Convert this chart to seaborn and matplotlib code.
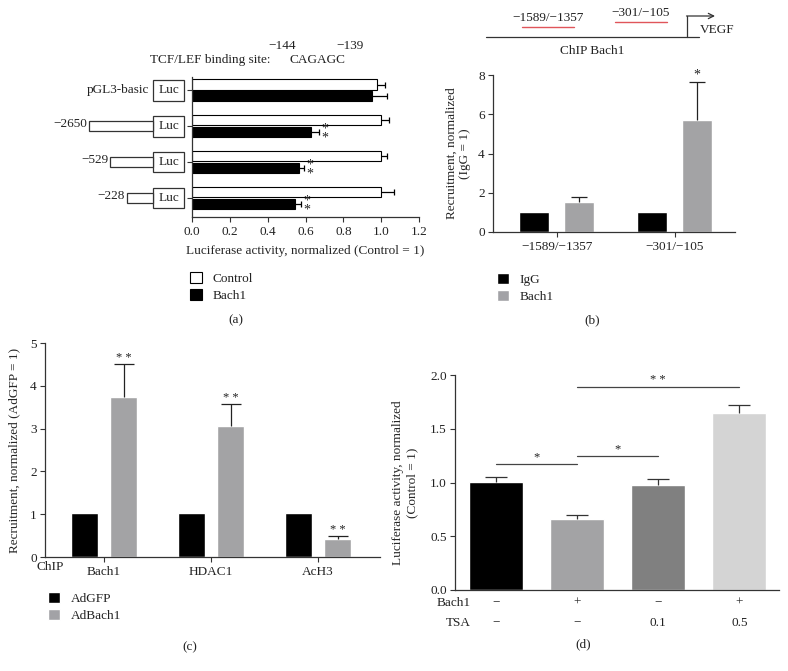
import numpy as np
import pandas as pd
import matplotlib
matplotlib.use('Agg')
import matplotlib.pyplot as plt
from matplotlib.patches import Patch, Rectangle
import matplotlib.transforms as mtrans
import seaborn as sns

# datos del panel (a): actividad luciferasa por construccion
constructs = ['pGL3-basic', '−2650', '−529', '−228']
control_a = [0.98, 1.00, 1.00, 1.00]
control_a_err = [0.04, 0.04, 0.03, 0.07]
bach1_a = [0.95, 0.63, 0.565, 0.545]
bach1_a_err = [0.08, 0.04, 0.025, 0.03]
sig_a = ['', '**', '**', '**']

# panel (b): ChIP Bach1 en el promotor de VEGF
regions_b = ['−1589/−1357', '−301/−105']
igg_b = [1.0, 1.0]
bach1_b = [1.52, 5.72]
bach1_b_err = [0.25, 1.92]
sig_b = ['', '*']

# panel (c): ChIP con AdGFP / AdBach1
chip_c = ['Bach1', 'HDAC1', 'AcH3']
adgfp_c = [1.02, 1.02, 1.02]
adbach1_c = [3.74, 3.05, 0.41]
adbach1_c_err = [0.77, 0.52, 0.08]
sig_c = ['**', '**', '**']

# panel (d): TSA
groups_d = ['ctrl', 'bach1', 'tsa_0.1', 'bach1_tsa_0.5']
vals_d = [1.005, 0.66, 0.98, 1.645]
err_d = [0.05, 0.04, 0.05, 0.08]
bach1_row_d = ['−', '+', '−', '+']
tsa_row_d = ['−', '−', '0.1', '0.5']
sig_d = [(0, 1, 1.17, '*'), (1, 2, 1.25, '*'), (1, 3, 1.89, '**')]

FS = 9.5
sns.set_style('ticks')
plt.rcParams['font.family'] = ['Liberation Serif', 'DejaVu Serif']
plt.rcParams['font.size'] = FS
plt.rcParams['axes.edgecolor'] = '#333333'
plt.rcParams['axes.linewidth'] = 0.9
plt.rcParams['xtick.color'] = '#333333'
plt.rcParams['ytick.color'] = '#333333'
plt.rcParams['xtick.labelcolor'] = '#222222'
plt.rcParams['ytick.labelcolor'] = '#222222'
plt.rcParams['xtick.major.size'] = 3.5
plt.rcParams['ytick.major.size'] = 3.5
plt.rcParams['xtick.major.pad'] = 3
plt.rcParams['ytick.major.pad'] = 2.5
plt.rcParams['text.color'] = '#222222'

W, H = 788, 671
fig = plt.figure(figsize=(W / 100, H / 100), dpi=100)


def rect(l, t, r, b):
    return [l / W, 1 - b / H, (r - l) / W, (b - t) / H]


def one_sided(ax, container, vals, errs, horizontal=False, capsize=3, color='black'):
    n = len(vals)
    if horizontal:
        pos = [p.get_y() + p.get_height() / 2 for p in container]
        eb = ax.errorbar(vals, pos, xerr=[np.zeros(n), errs], fmt='none',
                         ecolor=color, elinewidth=0.9, capsize=capsize, capthick=0.9)
    else:
        pos = [p.get_x() + p.get_width() / 2 for p in container]
        eb = ax.errorbar(pos, vals, yerr=[np.zeros(n), errs], fmt='none',
                         ecolor=color, elinewidth=0.9, capsize=capsize, capthick=0.9)
    eb.lines[1][0].set_visible(False)
    return pos


# ---------------- panel (a)
ax_a = fig.add_axes(rect(192, 77, 419, 217))
df_a = pd.DataFrame({
    'construct': constructs * 2,
    'cond': ['Control'] * 4 + ['Bach1'] * 4,
    'value': control_a + bach1_a,
})
sns.barplot(data=df_a, y='construct', x='value', hue='cond', orient='h',
            palette={'Control': 'white', 'Bach1': 'black'}, edgecolor='black',
            linewidth=0.8, width=0.64, gap=0.12, errorbar=None, legend=False, ax=ax_a)
one_sided(ax_a, ax_a.containers[0], control_a, control_a_err, horizontal=True, capsize=2.5)
pos = one_sided(ax_a, ax_a.containers[1], bach1_a, bach1_a_err, horizontal=True, capsize=2.5)
for v, e, y, s in zip(bach1_a, bach1_a_err, pos, sig_a):
    if s:
        ax_a.text(v + e + 0.015, y + 0.05, '*\n*', ha='left', va='center', fontsize=10,
                  linespacing=0.6)
ax_a.set_xlim(0, 1.2)
ax_a.set_ylim(3.53, -0.37)
ax_a.set_xticks(np.arange(0, 1.21, 0.2))
ax_a.set_xticklabels([f'{t:.1f}' for t in np.arange(0, 1.21, 0.2)])
ax_a.set_yticklabels([])
ax_a.set_ylabel('')
ax_a.set_xlabel('Luciferase activity, normalized (Control = 1)')
ax_a.xaxis.set_label_coords(0.5, -0.2)
sns.despine(ax=ax_a)

# esquema de las construcciones (izquierda)
ax_d0 = fig.add_axes(rect(60, 77, 192, 217), sharey=ax_a)
ax_d0.set_xlim(60, 192)
ax_d0.axis('off')
promoter_left = [None, 89, 110, 127]
for i, name in enumerate(constructs):
    ax_d0.add_patch(Rectangle((153, i - 0.29), 31, 0.58, facecolor='white',
                              edgecolor='#333333', lw=0.9))
    ax_d0.text(168.5, i, 'Luc', ha='center', va='center', fontsize=FS)
    if promoter_left[i] is None:
        ax_d0.text(149, i, name, ha='right', va='center', fontsize=FS)
    else:
        x0 = promoter_left[i]
        ax_d0.add_patch(Rectangle((x0, i - 0.14), 153 - x0, 0.28, facecolor='white',
                                  edgecolor='#333333', lw=0.9))
        ax_d0.text(x0 - 2, i - 0.05, name, ha='right', va='center', fontsize=FS)
ax_a.set_ylim(3.53, -0.37)

fig.legend(handles=[Patch(facecolor='white', edgecolor='black', lw=0.8, label='Control'),
                    Patch(facecolor='black', edgecolor='black', lw=0.8, label='Bach1')],
           loc='upper left', bbox_to_anchor=(190 / W, 1 - 272 / H), frameon=False,
           handlelength=0.9, handleheight=0.9, handletextpad=0.8, labelspacing=0.3,
           borderpad=0, borderaxespad=0, fontsize=FS)

# ---------------- panel (b)
gray = '#a2a2a6'
ax_b = fig.add_axes(rect(493, 75, 735, 232))
df_b = pd.DataFrame({
    'region': regions_b * 2,
    'cond': ['IgG'] * 2 + ['Bach1'] * 2,
    'value': igg_b + bach1_b,
})
sns.barplot(data=df_b, x='region', y='value', hue='cond',
            palette={'IgG': 'black', 'Bach1': gray}, width=0.76, gap=0.33,
            errorbar=None, legend=False, ax=ax_b)
pos = one_sided(ax_b, ax_b.containers[1], bach1_b, bach1_b_err, capsize=6, color='#222222')
for x, v, e, s in zip(pos, bach1_b, bach1_b_err, sig_b):
    if s:
        ax_b.text(x, v + e + 0.02, s, ha='center', va='bottom', fontsize=10)
ax_b.set_xlim(-0.54, 1.51)
ax_b.set_ylim(0, 8)
ax_b.set_yticks([0, 2, 4, 6, 8])
ax_b.set_xlabel('')
ax_b.set_ylabel('Recruitment, normalized\n(IgG = 1)')
ax_b.yaxis.set_label_coords(-0.09, 0.5)
sns.despine(ax=ax_b)

fig.legend(handles=[Patch(facecolor='black', label='IgG'),
                    Patch(facecolor=gray, label='Bach1')],
           loc='upper left', bbox_to_anchor=(497 / W, 1 - 273 / H), frameon=False,
           handlelength=0.9, handleheight=0.9, handletextpad=0.8, labelspacing=0.3,
           borderpad=0, borderaxespad=0, fontsize=FS)

# ---------------- panel (c)
ax_c = fig.add_axes(rect(45, 343, 380, 557))
df_c = pd.DataFrame({
    'chip': chip_c * 2,
    'cond': ['AdGFP'] * 3 + ['AdBach1'] * 3,
    'value': adgfp_c + adbach1_c,
})
sns.barplot(data=df_c, x='chip', y='value', hue='cond',
            palette={'AdGFP': 'black', 'AdBach1': gray}, width=0.74, gap=0.32,
            errorbar=None, legend=False, ax=ax_c)
pos = one_sided(ax_c, ax_c.containers[1], adbach1_c, adbach1_c_err, capsize=7, color='#222222')
for x, v, e, s in zip(pos, adbach1_c, adbach1_c_err, sig_c):
    ax_c.text(x, v + e + 0.0, '* *', ha='center', va='bottom', fontsize=9)
ax_c.set_xlim(-0.55, 2.58)
ax_c.set_ylim(0, 5)
ax_c.set_yticks(range(6))
ax_c.set_xlabel('')
ax_c.set_ylabel('Recruitment, normalized (AdGFP = 1)')
ax_c.yaxis.set_label_coords(-0.075, 0.5)
ax_c.text(0.015, -0.047, 'ChIP', transform=ax_c.transAxes, ha='center', va='center', fontsize=FS)
sns.despine(ax=ax_c)

fig.legend(handles=[Patch(facecolor='black', label='AdGFP'),
                    Patch(facecolor=gray, label='AdBach1')],
           loc='upper left', bbox_to_anchor=(48 / W, 1 - 592 / H), frameon=False,
           handlelength=0.9, handleheight=0.9, handletextpad=0.8, labelspacing=0.3,
           borderpad=0, borderaxespad=0, fontsize=FS)

# ---------------- panel (d)
ax_dd = fig.add_axes(rect(455, 375, 779, 590))
df_d = pd.DataFrame({'group': groups_d, 'value': vals_d})
sns.barplot(data=df_d, x='group', y='value', hue='group',
            palette=['black', gray, '#808080', '#d4d4d4'], width=0.67,
            errorbar=None, legend=False, ax=ax_dd)
xs_d = []
for cont, v, e in zip(ax_dd.containers, vals_d, err_d):
    xs_d += one_sided(ax_dd, cont, [v], [e], capsize=8, color='#333333')
for i, j, y, s in sig_d:
    ax_dd.plot([xs_d[i], xs_d[j]], [y, y], color='#444444', lw=0.9)
    ax_dd.text((xs_d[i] + xs_d[j]) / 2, y + 0.005, s.replace('**', '* *'),
               ha='center', va='bottom', fontsize=9)
ax_dd.set_xlim(-0.51, 3.49)
ax_dd.set_ylim(0, 2)
ax_dd.set_yticks([0, 0.5, 1.0, 1.5, 2.0])
ax_dd.set_yticklabels(['0.0', '0.5', '1.0', '1.5', '2.0'])
ax_dd.set_xticks([])
ax_dd.set_xlabel('')
ax_dd.set_ylabel('Luciferase activity, normalized\n(Control = 1)')
ax_dd.yaxis.set_label_coords(-0.114, 0.5)
sns.despine(ax=ax_dd)
tr = mtrans.blended_transform_factory(ax_dd.transData, ax_dd.transAxes)
ax_dd.text(-0.32, -0.06, 'Bach1', transform=tr, ha='right', va='center', fontsize=FS)
ax_dd.text(-0.32, -0.153, 'TSA', transform=tr, ha='right', va='center', fontsize=FS)
for x, b, t in zip(xs_d, bach1_row_d, tsa_row_d):
    ax_dd.text(x, -0.06, b, transform=tr, ha='center', va='center', fontsize=FS)
    ax_dd.text(x, -0.153, t, transform=tr, ha='center', va='center', fontsize=FS)

# ---------------- capa de anotaciones (coordenadas en pixeles)
ov = fig.add_axes([0, 0, 1, 1])
ov.set_xlim(0, W)
ov.set_ylim(H, 0)
ov.axis('off')
ov.patch.set_visible(False)

ov.text(150, 60, 'TCF/LEF binding site:', ha='left', va='center', fontsize=FS)
ov.text(290, 60, 'CAGAGC', ha='left', va='center', fontsize=FS)
ov.text(282, 46, '−144', ha='center', va='center', fontsize=FS)
ov.text(350, 46, '−139', ha='center', va='center', fontsize=FS)

# esquema del promotor de VEGF
ov.plot([486, 699], [37, 37], color='#333333', lw=0.9)
ov.plot([687, 687], [37, 15.5], color='#333333', lw=0.9)
ov.annotate('', xy=(715, 16), xytext=(686.5, 16),
            arrowprops=dict(arrowstyle='->', color='#333333', lw=0.9, shrinkA=0, shrinkB=0))
ov.text(700, 30, 'VEGF', ha='left', va='center', fontsize=FS)
ov.plot([522, 574], [27, 27], color='#e0555a', lw=1.0)
ov.plot([615, 667], [22, 22], color='#e0555a', lw=1.0)
ov.text(548, 18, '−1589/−1357', ha='center', va='center', fontsize=FS)
ov.text(641, 13, '−301/−105', ha='center', va='center', fontsize=FS)
ov.text(592, 51, 'ChIP Bach1', ha='center', va='center', fontsize=FS)

ov.text(236, 320, '(a)', ha='center', va='center', fontsize=FS)
ov.text(592, 320, '(b)', ha='center', va='center', fontsize=FS)
ov.text(190, 647, '(c)', ha='center', va='center', fontsize=FS)
ov.text(583, 644, '(d)', ha='center', va='center', fontsize=FS)

fig.savefig('out.png', dpi=100)
